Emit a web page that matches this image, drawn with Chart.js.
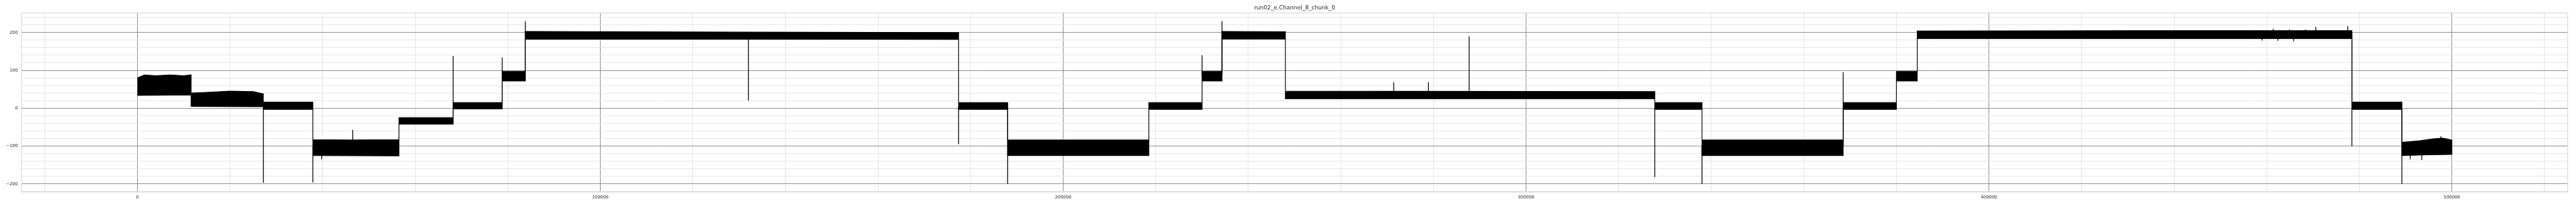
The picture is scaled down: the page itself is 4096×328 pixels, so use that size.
<!DOCTYPE html>
<html lang="en">
<head>
<meta charset="UTF-8">
<title>run02_e.Channel_8_chunk_0</title>
<script src="https://cdn.jsdelivr.net/npm/chart.js"></script>
<style>
  html, body { margin: 0; padding: 0; background: #fff; }
  #wrap { width: 4096px; height: 328px; }
</style>
</head>
<body>
<div id="wrap"><canvas id="chart" width="4096" height="328"></canvas></div>
<script>
// signal envelope (sample index, value)
const upperX = [0, 1500, 4000, 7000, 10000, 11600,
  11600, 15000, 20000, 25000, 27200,
  27200, 37900,
  37900, 46000, 56500,
  56500, 68200,
  68200, 78800,
  78800, 83800,
  83800, 130000, 177400,
  177400, 188000,
  188000, 218500,
  218500, 230000,
  230000, 234300,
  234300, 248000,
  248000, 327800,
  327800, 338000,
  338000, 368500,
  368500, 380000,
  380000, 384500,
  384500, 430000, 478400,
  478400, 489200,
  489200, 493000, 496000, 498000, 500000];
const upperY = [80, 88, 86, 88, 86, 88,
  40, 42, 45, 44, 38,
  16, 16,
  -83, -84, -83,
  -25, -25,
  15, 15,
  97, 97,
  203, 201, 200,
  15, 15,
  -84, -84,
  15, 15,
  97, 97,
  203, 202,
  45, 44,
  15, 15,
  -84, -84,
  15, 15,
  97, 97,
  204, 205, 205,
  16, 16,
  -90, -86, -81, -79, -84];
const lowerX = [0, 11600,
  11600, 27200,
  27200, 37900,
  37900, 56500,
  56500, 68200,
  68200, 78800,
  78800, 83800,
  83800, 177400,
  177400, 188000,
  188000, 218500,
  218500, 230000,
  230000, 234300,
  234300, 248000,
  248000, 327800,
  327800, 338000,
  338000, 368500,
  368500, 380000,
  380000, 384500,
  384500, 478400,
  478400, 489200,
  489200, 495000, 500000];
const lowerY = [34, 35,
  5, 4,
  -3, -3,
  -125, -126,
  -42, -42,
  -2, -2,
  72, 72,
  183, 182,
  -3, -3,
  -125, -125,
  -3, -3,
  72, 72,
  183, 183,
  25, 25,
  -3, -3,
  -125, -125,
  -3, -3,
  72, 72,
  184, 184,
  -3, -3,
  -125, -123, -122];

// isolated vertical spikes
const spikeX    = [27200, 37900, 39800, 46500, 68200, 78800, 83800, 132000, 177400, 188000, 230000, 234300, 271400, 278900, 287700,
  327800, 338000, 368500, 459000, 461400, 462400, 464900, 465800, 468400, 470600, 477500, 478400, 489200, 491000, 493500, 497600];
const spikeLow  = [-197, -196, -135, -110, -40, 0, 90, 20, -95, -200, 80, 90, 40, 40, 40,
  -182, -200, -100, 179, 200, 178, 200, 177, 200, 200, 200, -100, -200, -135, -137, -90];
const spikeHigh = [0, -100, -110, -57, 138, 134, 230, 190, 5, 0, 140, 230, 69, 69, 190,
  0, -100, 95, 190, 210, 190, 208, 190, 208, 215, 217, 200, 0, -120, -120, -74];

const titleText = 'run02_e.Channel_8_chunk_0';
const xRange = [-25025, 525025], xMajor = 100000, xMinor = 20000;
const yRange = [-221.6, 251.6], yMajor = 100, yMinor = 20;
const S = 0.758;

// polygon: top edge left to right, bottom edge back
const band = [];
upperX.forEach((x, i) => band.push({ x: x, y: upperY[i] }));
for (let i = lowerX.length - 1; i >= 0; i--) band.push({ x: lowerX[i], y: lowerY[i] });

const spikes = [];
spikeX.forEach((x, i) => {
  spikes.push({ x: x, y: spikeLow[i] }, { x: x, y: spikeHigh[i] }, { x: x, y: null });
});

function tickList(range, step) {
  const out = [];
  for (let v = Math.ceil(range[0] / step) * step; v <= range[1]; v += step) out.push({ value: v });
  return out;
}

const MAJOR = '#8a8a8a', MINOR = '#e4e4e4';
function gridColor(step) {
  return c => (c.tick && Math.abs(c.tick.value % step) < 1e-6) ? MAJOR : MINOR;
}
function fmt(v) { return v < 0 ? '\u2212' + Math.abs(v) : String(v); }

const frame = {
  id: 'frame',
  afterDraw(chart) {
    const { ctx, chartArea: a } = chart;
    ctx.save();
    ctx.strokeStyle = '#cfcfcf';
    ctx.lineWidth = 1;
    ctx.strokeRect(a.left, a.top, a.right - a.left, a.bottom - a.top);
    ctx.fillStyle = '#262626';
    ctx.font = (11.9 * S) + 'px "DejaVu Sans"';
    ctx.textAlign = 'center';
    ctx.textBaseline = 'middle';
    ctx.fillText(titleText, (a.left + a.right) / 2, 17.3 * S);
    ctx.restore();
  }
};

const tickFont = { family: 'DejaVu Sans', size: 9.1 * S };

new Chart(document.getElementById('chart'), {
  type: 'line',
  data: {
    datasets: [
      { data: band, borderColor: '#000', backgroundColor: '#000', borderWidth: 1.2, fill: 'shape', pointRadius: 0, tension: 0 },
      { data: spikes, borderColor: '#000', borderWidth: 1.3, fill: false, pointRadius: 0, spanGaps: false, tension: 0 }
    ]
  },
  options: {
    responsive: false,
    animation: false,
    events: [],
    layout: { padding: { left: 0, right: 4096 - 5386.3 * S, top: 27.3 * S, bottom: 0 } },
    plugins: { legend: { display: false }, tooltip: { enabled: false }, title: { display: false } },
    scales: {
      x: {
        type: 'linear', min: xRange[0], max: xRange[1],
        border: { display: false },
        grid: { color: gridColor(xMajor), lineWidth: 1, drawTicks: false },
        ticks: { autoSkip: false, maxRotation: 0, padding: 4, color: '#262626', font: tickFont,
          callback: v => Math.abs(v % xMajor) < 1e-6 ? fmt(v) : '' },
        afterBuildTicks: s => { s.ticks = tickList(xRange, xMinor); },
        afterFit: s => { s.height = 328 - 403.5 * S; }
      },
      y: {
        type: 'linear', min: yRange[0], max: yRange[1],
        border: { display: false },
        grid: { color: gridColor(yMajor), lineWidth: 1, drawTicks: false },
        ticks: { autoSkip: false, padding: 6, color: '#262626', font: tickFont,
          callback: v => Math.abs(v % yMajor) < 1e-6 ? fmt(v) : '' },
        afterBuildTicks: s => { s.ticks = tickList(yRange, yMinor); },
        afterFit: s => { s.width = 45.3 * S; }
      }
    }
  },
  plugins: [frame]
});
</script>
</body>
</html>
